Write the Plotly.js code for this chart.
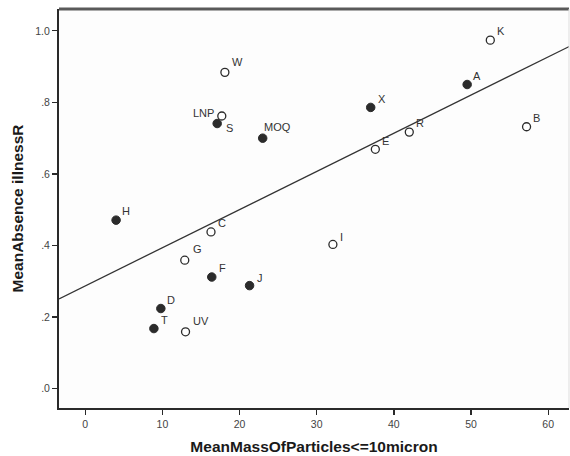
<!DOCTYPE html>
<html>
<head>
<meta charset="utf-8">
<script src="https://cdn.plot.ly/plotly-3.0.1.min.js"></script>
<style>html,body{margin:0;padding:0;background:#fff;}#chart{width:570px;height:456px;}</style>
</head>
<body>
<div id="chart"></div>
<script>
// Filled markers
var filledLabels = ["H", "S", "MOQ", "X", "A", "F", "J", "D", "T"];
var filledX = [4.0, 17.1, 23.0, 37.0, 49.5, 16.4, 21.3, 9.8, 8.9];
var filledY = [0.471, 0.741, 0.700, 0.786, 0.850, 0.312, 0.288, 0.224, 0.168];

// Open markers
var openLabels = ["W", "LNP", "E", "R", "K", "B", "C", "G", "UV", "I"];
var openX = [18.1, 17.7, 37.6, 42.0, 52.5, 57.2, 16.3, 12.9, 13.0, 32.1];
var openY = [0.884, 0.762, 0.669, 0.717, 0.974, 0.732, 0.438, 0.359, 0.159, 0.403];

// Fit line end points
var fitX = [-3.4, 62.9];
var fitY = [0.251, 0.958];

// Tick labels
var xTickVals = [0, 10, 20, 30, 40, 50, 60];
var xTickText = ["0", "10", "20", "30", "40", "50", "60"];
var yTickVals = [0, 0.2, 0.4, 0.6, 0.8, 1.0];
var yTickText = [".0", ".2", ".4", ".6", ".8", "1.0"];

// Label placement (style): pixel shifts and anchors
var filledDx = [5, 8, 0, 6, 5, 6, 6, 5, 6];
var filledDy = [9, -4, 11, 8, 9, 9, 8, 9, 9];
var filledAnchor = ["left", "left", "left", "left", "left", "left", "left", "left", "left"];
var openDx = [6, -7, 6, 6, 6, 5, 6, 7, 6, 6];
var openDy = [10, 3.5, 8, 9, 9, 9, 9, 11, 11, 7];
var openAnchor = ["left", "right", "left", "left", "left", "left", "left", "left", "left", "left"];

var labelFont = {family: "Liberation Sans, Arial, sans-serif", size: 11, color: "#333"};

function makeAnn(xs, ys, labels, dx, dy, anc) {
  return labels.map(function (t, i) {
    return {
      x: xs[i], y: ys[i], xref: "x", yref: "y", text: t, showarrow: false,
      xanchor: anc[i], yanchor: "middle", xshift: dx[i], yshift: dy[i],
      font: labelFont, borderpad: 0
    };
  });
}

var traces = [
  {
    x: fitX, y: fitY, mode: "lines", type: "scatter",
    line: {color: "#333", width: 1.3}, hoverinfo: "skip", showlegend: false
  },
  {
    x: filledX, y: filledY, mode: "markers", type: "scatter",
    marker: {size: 8.5, color: "#2b2b2b", line: {color: "#2b2b2b", width: 1}},
    showlegend: false, cliponaxis: false
  },
  {
    x: openX, y: openY, mode: "markers", type: "scatter",
    marker: {size: 8, color: "#ffffff", line: {color: "#2b2b2b", width: 1.3}},
    showlegend: false, cliponaxis: false
  }
];

var layout = {
  width: 570, height: 456,
  margin: {l: 59, r: 1, t: 9, b: 48},
  paper_bgcolor: "#ffffff", plot_bgcolor: "#fdfdfd",
  showlegend: false,
  font: {family: "Liberation Sans, Arial, sans-serif", color: "#333"},
  xaxis: {
    range: [-3.4, 62.7], zeroline: false, showgrid: false,
    showline: true, linecolor: "#2a2a2a", linewidth: 2,
    ticks: "outside", ticklen: 5, tickwidth: 1.3, tickcolor: "#2a2a2a",
    tickvals: xTickVals, ticktext: xTickText,
    tickfont: {size: 10.5, color: "#444"},
    title: {text: "MeanMassOfParticles<=10micron", font: {size: 15.5, color: "#1a1a1a", weight: "bold"}, standoff: 13}
  },
  yaxis: {
    range: [-0.054, 1.061], zeroline: false, showgrid: false,
    showline: true, linecolor: "#2a2a2a", linewidth: 2,
    ticks: "outside", ticklen: 5, tickwidth: 1.3, tickcolor: "#2a2a2a",
    tickvals: yTickVals, ticktext: yTickText,
    tickfont: {size: 10.5, color: "#444"},
    title: {text: "MeanAbsence illnessR", font: {size: 15.5, color: "#1a1a1a", weight: "bold"}, standoff: 8}
  },
  annotations: makeAnn(filledX, filledY, filledLabels, filledDx, filledDy, filledAnchor)
    .concat(makeAnn(openX, openY, openLabels, openDx, openDy, openAnchor)),
  shapes: [
    {type: "line", xref: "paper", yref: "paper", x0: 0, x1: 1, y0: 1, y1: 1, line: {color: "#5a5a5a", width: 3}},
    {type: "line", xref: "paper", yref: "paper", x0: 1, x1: 1, y0: 0, y1: 1, line: {color: "#dddddd", width: 1}}
  ]
};

Plotly.newPlot("chart", traces, layout, {displayModeBar: false, staticPlot: true});
</script>
</body>
</html>
